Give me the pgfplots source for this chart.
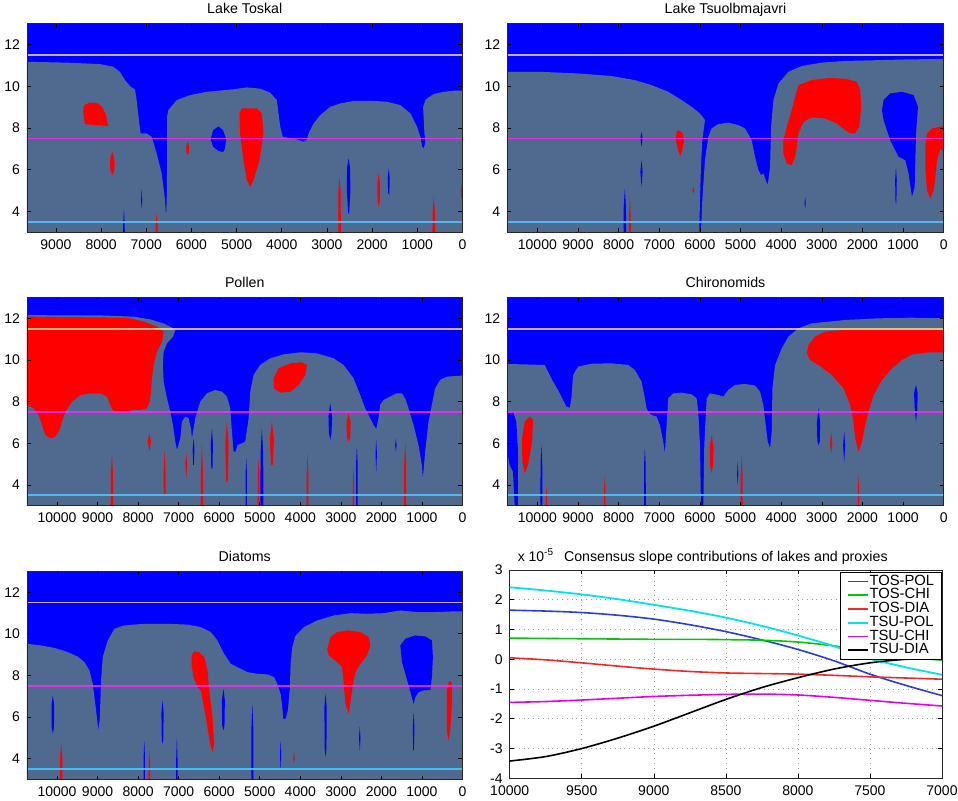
\documentclass[border=0pt]{standalone}
\usepackage{fontspec}
\setmainfont{Liberation Sans}
\usepackage{pgfplots}
\pgfplotsset{compat=1.18}
\definecolor{sgray}{RGB}{79,106,142}
\definecolor{sblue}{RGB}{0,0,255}
\definecolor{sred}{RGB}{255,0,0}
\definecolor{lyel}{RGB}{240,220,160}
\definecolor{lmag}{RGB}{255,40,255}
\definecolor{lcya}{RGB}{70,200,255}
\definecolor{cpol}{RGB}{40,60,230}
\definecolor{cchi}{RGB}{0,200,0}
\definecolor{cdia}{RGB}{240,40,40}
\definecolor{tpol}{RGB}{0,230,230}
\definecolor{tchi}{RGB}{230,0,230}
\pgfplotsset{
  every axis title shift=0pt,
  common/.style={
    scale only axis, height=104.15pt,
    enlargelimits=false, x dir=reverse,
    scaled ticks=false,
    tick align=inside, major tick length=2pt,
    tick style={black, line width=0.3pt},
    axis line style={black!85, line width=0.4pt},
    tick label style={font=\fontsize{7}{8}\selectfont},
    title style={font=\fontsize{7.1}{8}\selectfont, at={(0.5,1)}, anchor=base, yshift=5pt},
    /pgf/number format/assume math mode=true,
    /pgf/number format/1000 sep={},
  },
  mapax/.style={common, ymin=3, ymax=13, ytick={4,6,8,10,12}, xmin=0,
    axis background/.style={fill=sblue}, axis on top},
  G/.style={fill=sgray, draw=none},
  R/.style={fill=sred, draw=none},
  B/.style={fill=sblue, draw=none},
  L1/.style={draw=lyel, draw opacity=0.8, line width=0.9pt},
  L2/.style={draw=lmag, draw opacity=0.85, line width=0.9pt},
  L3/.style={draw=lcya, draw opacity=0.9, line width=0.9pt},
}
\begin{document}
\begin{tikzpicture}
\useasboundingbox (0,0) rectangle (479pt,400.5pt);

% ---------------- Panel 1: Lake Toskal
\begin{axis}[mapax, at={(13.5pt,284.4pt)}, anchor=south west, width=217.75pt,
  xmax=9640, xtick={0,1000,...,9000}, title={Lake Toskal}]
\addplot[G] coordinates {(9640,3)(9640,11.18)(8765,11.14)(8026,11.07)(7730,10.94)(7582,10.70)(7471,10.30)(7346,9.98)(7250,9.86)(7213,9.34)(7154,8.22)(7124,7.74)(6991,7.74)(6880,7.58)(6769,6.78)(6658,5.82)(6584,4.54)(6562,3.74)(6547,4.5)(6540,6.0)(6540,8.54)(6510,8.86)(6326,9.34)(6030,9.58)(5661,9.74)(5070,9.86)(4774,9.95)(4478,9.89)(4257,9.70)(4109,9.34)(4035,8.06)(3976,7.58)(3700,7.48)(3518,7.34)(3444,7.45)(3407,7.74)(3296,8.22)(3148,8.62)(2926,9.02)(2705,9.18)(2409,9.30)(2040,9.31)(1670,9.26)(1375,9.10)(1153,8.70)(1005,8.06)(931,7.58)(894,7.10)(857,7.02)(820,7.34)(842,7.74)(872,9.02)(820,9.34)(783,9.42)(636,9.63)(414,9.74)(192,9.79)(0,9.79)(0,3)};
\addplot[R] coordinates {(8380,9.10)(8247,9.22)(8062,9.18)(7967,8.99)(7893,8.62)(7841,8.10)(8099,8.14)(8358,8.19)(8395,8.70)};
\addplot[R] coordinates {(7752,6.86)(7715,6.6)(7700,6.3)(7710,5.95)(7752,5.74)(7790,5.95)(7804,6.3)(7790,6.6)};
\addplot[R] coordinates {(6082,7.34)(6050,7.1)(6060,6.8)(6082,6.70)(6110,6.85)(6115,7.15)};
\addplot[R] coordinates {(4885,8.94)(4552,8.94)(4441,8.70)(4404,7.74)(4493,6.46)(4626,5.50)(4700,5.18)(4774,5.50)(4848,6.46)(4922,7.74)(4937,8.70)};
\addplot[R] coordinates {(2750,3)(2745,5.0)(2725,5.66)(2700,5.0)(2690,3)};
\addplot[R] coordinates {(1855,5.82)(1825,5.3)(1830,4.5)(1855,4.22)(1880,4.5)(1885,5.3)};
\addplot[R] coordinates {(636,4.70)(610,4.0)(605,3)(665,3)(660,4.0)};
\addplot[R] coordinates {(0,5.34)(20,5.34)(40,5.0)(30,4.6)(0,4.6)};
\addplot[R] coordinates {(6769,3.9)(6750,3.4)(6745,3)(6795,3)(6790,3.4)};
\addplot[B] coordinates {(5402,8.07)(5300,7.9)(5232,7.46)(5260,7.0)(5300,6.85)(5402,6.9)(5520,7.1)(5572,7.46)(5520,7.9)};
\addplot[B] coordinates {(2520,6.54)(2490,6.1)(2480,5.0)(2510,3.90)(2530,3.90)(2560,5.0)(2555,6.1)};
\addplot[B] coordinates {(1633,6.06)(1610,5.6)(1620,4.78)(1645,4.9)(1655,5.6)};
\addplot[B] coordinates {(7494,4.14)(7480,3.5)(7475,3)(7515,3)(7508,3.5)};
\addplot[B] coordinates {(7102,5.10)(7090,4.5)(7100,4.14)(7115,4.5)};
\addplot[L1] coordinates {(9640,11.5)(0,11.5)};
\addplot[L2] coordinates {(9640,7.5)(0,7.5)};
\addplot[L3] coordinates {(9640,3.5)(0,3.5)};
\end{axis}

% ---------------- Panel 2: Lake Tsuolbmajavri
\begin{axis}[mapax, at={(253.65pt,284.4pt)}, anchor=south west, width=218.2pt,
  xmax=10740, xtick={0,1000,...,10000}, title={Lake Tsuolbmajavri}]
\addplot[G] coordinates {(10740,3)(10740,10.70)(9819,10.69)(8998,10.62)(8176,10.50)(7601,10.30)(7190,10.06)(6779,9.74)(6450,9.34)(6204,9.02)(5998,8.70)(5875,8.38)(5941,7.42)(5974,6.14)(5998,4.54)(6015,3)(5974,3)(5941,4.54)(5875,6.46)(5793,7.58)(5711,7.98)(5546,8.19)(5300,8.26)(5053,8.14)(4889,7.98)(4725,7.42)(4643,6.62)(4560,5.98)(4495,5.74)(4437,5.82)(4380,5.50)(4330,5.26)(4273,6.14)(4248,8.06)(4191,9.34)(4067,10.14)(3821,10.70)(3492,10.98)(2999,11.14)(2424,11.22)(1602,11.26)(781,11.30)(0,11.31)(0,3)};
\addplot[B] coordinates {(1520,8.86)(1479,8.38)(1315,7.42)(1109,6.62)(945,6.46)(863,5.82)(781,4.70)(715,5.18)(698,6.46)(682,7.74)(633,9.02)(740,9.58)(1027,9.74)(1315,9.66)(1479,9.34)};
\addplot[B] coordinates {(1175,6.14)(1155,5.5)(1165,4.38)(1185,4.38)(1195,5.5)};
\addplot[B] coordinates {(7436,7.82)(7410,7.5)(7436,7.10)(7465,7.5)};
\addplot[B] coordinates {(7436,6.46)(7410,5.9)(7436,5.18)(7465,5.9)};
\addplot[B] coordinates {(7847,5.10)(7820,4.2)(7815,3)(7880,3)(7875,4.2)};
\addplot[R] coordinates {(7724,4.70)(7705,3.8)(7700,3)(7750,3)(7745,3.8)};
\addplot[B] coordinates {(3410,4.70)(3395,4.4)(3410,4.14)(3425,4.4)};
\addplot[R] coordinates {(3574,10.06)(3246,10.30)(2835,10.40)(2424,10.37)(2136,10.22)(2054,9.82)(2030,9.02)(2079,8.06)(2178,7.74)(2301,7.74)(2424,7.90)(2629,8.22)(2917,8.46)(3246,8.51)(3451,8.30)(3574,7.74)(3615,7.10)(3657,6.62)(3739,6.22)(3862,6.30)(3944,6.78)(3944,7.42)(3862,8.06)(3739,8.86)(3657,9.50)};
\addplot[R] coordinates {(411,7.74)(288,7.98)(0,8.10)(0,6.9)(82,7.02)(164,6.46)(205,5.66)(247,5.02)(329,4.62)(411,5.02)(452,6.14)(452,7.10)};
\addplot[R] coordinates {(6560,7.90)(6440,7.80)(6390,7.4)(6440,6.9)(6480,6.66)(6530,6.9)(6600,7.5)};
\addplot[R] coordinates {(6163,5.18)(6140,5.0)(6163,4.86)(6185,5.0)};
\addplot[L1] coordinates {(10740,11.5)(0,11.5)};
\addplot[L2] coordinates {(10740,7.5)(0,7.5)};
\addplot[L3] coordinates {(10740,3.5)(0,3.5)};
\end{axis}

% ---------------- Panel 3: Pollen
\begin{axis}[mapax, at={(13.5pt,147.6pt)}, anchor=south west, width=217.75pt,
  xmax=10740, xtick={0,1000,...,10000}, title={Pollen}]
\addplot[G] coordinates {(10740,3)(10740,12.15)(8932,12.14)(8110,12.08)(7700,11.95)(7370,11.75)(7160,11.55)(7083,11.42)(7141,11.12)(7288,10.80)(7370,10.40)(7390,9.76)(7370,8.96)(7288,8.16)(7206,7.52)(7141,6.88)(7083,6.08)(7042,5.68)(6960,6.24)(6919,7.04)(6837,7.28)(6754,7.20)(6697,6.72)(6672,6.24)(6590,7.20)(6467,8.0)(6302,8.40)(6097,8.56)(5933,8.48)(5809,8.24)(5727,7.68)(5686,6.56)(5645,5.60)(5596,5.60)(5547,5.92)(5440,6.0)(5357,6.08)(5275,7.20)(5234,8.48)(5152,9.28)(4988,9.76)(4741,10.08)(4413,10.27)(4002,10.37)(3591,10.32)(3180,10.08)(2933,9.76)(2687,9.12)(2523,8.32)(2399,7.68)(2276,7.20)(2194,6.88)(2128,6.69)(2071,7.20)(2030,7.84)(1947,8.08)(1783,8.24)(1619,8.40)(1496,8.40)(1413,8.16)(1331,7.68)(1208,6.88)(1085,5.92)(1002,4.96)(978,4.32)(920,5.60)(838,7.04)(756,7.84)(674,8.64)(551,9.04)(386,9.20)(0,9.25)(0,3)};
\addplot[R] coordinates {(10740,12.08)(8275,12.03)(7864,11.84)(7535,11.60)(7370,11.36)(7412,10.88)(7535,10.40)(7617,9.76)(7658,9.12)(7683,8.48)(7716,8.0)(7781,7.68)(7946,7.60)(8110,7.60)(8357,7.52)(8603,7.52)(8685,7.84)(8768,8.24)(8932,8.40)(9178,8.40)(9425,8.32)(9630,8.0)(9795,7.52)(9877,7.04)(9959,6.56)(10041,6.32)(10164,6.24)(10288,6.40)(10370,6.88)(10452,7.36)(10575,7.68)(10740,7.84)};
\addplot[R] coordinates {(4659,9.12)(4536,9.60)(4248,9.84)(3961,9.89)(3837,9.76)(3878,9.28)(4043,8.80)(4248,8.48)(4495,8.43)(4643,8.64)};
\addplot[R] coordinates {(7724,6.48)(7680,6.1)(7724,5.60)(7765,6.1)};
\addplot[R] coordinates {(8645,5.52)(8620,4.5)(8615,3)(8675,3)(8670,4.5)};
\addplot[R] coordinates {(7346,5.68)(7320,4.5)(7325,3.5)(7365,3.5)(7372,4.5)};
\addplot[R] coordinates {(6812,5.52)(6790,5.0)(6812,4.32)(6835,5.0)};
\addplot[R] coordinates {(6426,6.0)(6400,4.5)(6395,3)(6455,3)(6452,4.5)};
\addplot[R] coordinates {(5809,7.04)(5770,6.0)(5790,4.16)(5830,4.16)(5850,6.0)};
\addplot[R] coordinates {(5029,5.28)(5010,4.5)(5005,3)(5050,3)(5048,4.5)};
\addplot[R] coordinates {(4700,7.04)(4650,6.2)(4680,4.96)(4720,4.96)(4750,6.2)};
\addplot[R] coordinates {(3821,5.52)(3800,4.5)(3800,3)(3845,3)(3842,4.5)};
\addplot[R] coordinates {(2810,7.44)(2760,7.0)(2770,6.3)(2810,6.08)(2850,6.3)(2860,7.0)};
\addplot[R] coordinates {(2687,4.80)(2670,4.0)(2670,3)(2710,3)(2705,4.0)};
\addplot[R] coordinates {(1413,6.08)(1390,5.0)(1390,3)(1440,3)(1437,5.0)};
\addplot[B] coordinates {(3262,7.92)(3215,7.3)(3230,6.5)(3262,6.16)(3295,6.5)(3305,7.3)};
\addplot[B] coordinates {(4947,6.72)(4915,5.5)(4910,3)(4985,3)(4980,5.5)};
\addplot[B] coordinates {(5333,5.28)(5315,4.5)(5315,3)(5350,3)(5350,4.5)};
\addplot[B] coordinates {(6179,6.72)(6155,6.0)(6165,4.80)(6195,4.80)(6205,6.0)};
\addplot[B] coordinates {(6631,6.24)(6610,5.7)(6625,4.96)(6640,4.96)(6655,5.7)};
\addplot[B] coordinates {(2605,5.84)(2585,5.0)(2585,3)(2625,3)(2625,5.0)};
\addplot[B] coordinates {(2128,6.16)(2110,5.5)(2128,4.64)(2145,5.5)};
\addplot[B] coordinates {(1643,6.24)(1625,5.9)(1643,5.60)(1660,5.9)};
\addplot[L1] coordinates {(10740,11.5)(0,11.5)};
\addplot[L2] coordinates {(10740,7.5)(0,7.5)};
\addplot[L3] coordinates {(10740,3.5)(0,3.5)};
\end{axis}

% ---------------- Panel 4: Chironomids
\begin{axis}[mapax, at={(253.65pt,147.6pt)}, anchor=south west, width=218.2pt,
  xmax=10740, xtick={0,1000,...,10000}, title={Chironomids}]
\addplot[G] coordinates {(10740,3)(10740,9.81)(9819,9.76)(9737,9.44)(9614,8.96)(9491,8.56)(9367,8.08)(9285,7.76)(9203,7.71)(9162,8.16)(9121,9.28)(8998,9.68)(8669,9.82)(8176,9.84)(7765,9.76)(7601,9.52)(7436,8.96)(7354,8.16)(7313,7.68)(7272,7.52)(7190,7.36)(7067,7.28)(6984,6.88)(6902,6.08)(6861,5.52)(6820,6.88)(6779,8.16)(6656,8.40)(6450,8.43)(6204,8.35)(6081,8.16)(6040,7.52)(5998,5.92)(5974,3)(5916,3)(5892,5.92)(5834,8.16)(5752,8.40)(5546,8.32)(5423,8.24)(5300,8.56)(5136,8.80)(4889,8.85)(4643,8.77)(4519,8.48)(4437,7.84)(4380,6.88)(4330,6.08)(4273,5.76)(4232,6.56)(4215,8.64)(4150,9.76)(3985,10.56)(3821,11.12)(3574,11.52)(3246,11.76)(2424,11.92)(1602,12.0)(781,12.03)(0,12.0)(0,3)};
\addplot[B] coordinates {(10740,7.52)(10600,7.52)(10518,7.04)(10477,5.60)(10477,3)(10559,3)(10600,4.64)(10682,4.96)(10740,5.60)};
\addplot[R] coordinates {(3369,10.32)(3328,10.72)(3164,11.12)(2917,11.36)(2424,11.44)(0,11.44)(0,10.37)(370,10.37)(781,10.27)(1027,10.0)(1274,9.60)(1520,9.04)(1726,8.32)(1849,7.52)(1931,6.88)(2013,6.08)(2095,5.60)(2178,6.24)(2219,7.04)(2301,7.84)(2465,8.64)(2753,9.28)(3081,9.76)(3287,10.0)};
\addplot[R] coordinates {(10312,7.04)(10189,7.28)(10107,7.12)(10132,6.08)(10230,4.96)(10312,4.56)(10370,5.12)(10378,6.24)};
\addplot[R] coordinates {(5711,6.40)(5660,5.8)(5680,4.9)(5711,4.56)(5745,4.9)(5760,5.8)};
\addplot[R] coordinates {(2769,6.56)(2740,6.0)(2769,5.52)(2800,6.0)};
\addplot[R] coordinates {(4971,5.44)(4950,4.5)(4945,3)(5000,3)(4995,4.5)};
\addplot[R] coordinates {(8340,4.48)(8325,3.8)(8325,3)(8360,3)(8357,3.8)};
\addplot[R] coordinates {(9778,4.0)(9765,3.5)(9765,3)(9795,3)};
\addplot[R] coordinates {(2095,4.48)(2080,3.8)(2080,3)(2115,3)(2112,3.8)};
\addplot[B] coordinates {(3081,7.68)(3040,7.0)(3050,6.1)(3081,5.92)(3110,6.1)(3120,7.0)};
\addplot[B] coordinates {(2449,6.56)(2425,5.9)(2449,5.12)(2475,5.9)};
\addplot[B] coordinates {(682,8.80)(640,8.4)(650,7.6)(682,7.04)(710,7.6)(730,8.4)};
\addplot[B] coordinates {(9901,5.92)(9880,5.0)(9875,3)(9925,3)(9922,5.0)};
\addplot[B] coordinates {(7354,5.76)(7335,5.0)(7330,3)(7375,3)(7373,5.0)};
\addplot[B] coordinates {(5070,5.12)(5055,4.5)(5070,4.0)(5085,4.5)};
\addplot[L1] coordinates {(10740,11.5)(0,11.5)};
\addplot[L2] coordinates {(10740,7.5)(0,7.5)};
\addplot[L3] coordinates {(10740,3.5)(0,3.5)};
\end{axis}

% ---------------- Panel 5: Diatoms
\begin{axis}[mapax, at={(13.5pt,10.7pt)}, anchor=south west, width=217.75pt,
  xmax=10740, xtick={0,1000,...,10000}, title={Diatoms}]
\addplot[G] coordinates {(10740,3)(10740,9.52)(10389,9.44)(10061,9.32)(9733,9.12)(9487,8.90)(9323,8.64)(9200,8.24)(9118,7.60)(9036,6.32)(8979,5.36)(8946,5.92)(8913,7.76)(8872,8.88)(8749,9.68)(8585,10.24)(8339,10.40)(7847,10.48)(7273,10.48)(6781,10.44)(6453,10.32)(6207,10.08)(6043,9.68)(5879,9.04)(5715,8.56)(5551,8.40)(5305,8.16)(5059,8.08)(4813,8.05)(4649,7.92)(4567,7.60)(4485,7.12)(4444,6.48)(4420,5.92)(4362,5.92)(4305,6.32)(4256,7.44)(4239,8.56)(4198,9.36)(4116,9.92)(3911,10.32)(3583,10.64)(3173,10.88)(2763,10.99)(2353,10.96)(1943,10.99)(1533,11.12)(1123,11.04)(713,11.04)(303,11.07)(0,11.07)(0,3)};
\addplot[R] coordinates {(3296,9.52)(3255,9.84)(3091,10.08)(2804,10.16)(2517,10.08)(2312,9.84)(2271,9.44)(2353,8.96)(2517,8.56)(2640,8.16)(2698,7.60)(2747,6.96)(2804,6.16)(2886,6.64)(2927,7.60)(2968,8.40)(3091,8.64)(3296,8.96)(3337,9.28)};
\addplot[R] coordinates {(6683,8.96)(6617,9.16)(6494,9.12)(6371,8.88)(6289,8.24)(6248,7.28)(6166,6.0)(6125,4.72)(6166,4.32)(6224,4.72)(6330,6.0)(6453,7.28)(6535,7.44)(6634,7.92)(6683,8.56)};
\addplot[R] coordinates {(385,7.28)(328,7.76)(262,7.60)(262,6.64)(303,5.36)(344,4.88)(385,5.36)};
\addplot[R] coordinates {(9897,4.80)(9870,4.0)(9865,3)(9930,3)(9925,4.0)};
\addplot[R] coordinates {(7724,4.40)(7705,3.8)(7705,3)(7745,3)(7742,3.8)};
\addplot[R] coordinates {(4157,4.40)(4140,4.0)(4157,3.76)(4175,4.0)};
\addplot[B] coordinates {(1533,9.44)(1410,9.76)(1164,9.92)(918,9.87)(754,9.68)(730,8.88)(754,7.92)(795,7.31)(959,7.28)(1082,7.20)(1164,6.96)(1205,6.64)(1271,7.12)(1386,7.92)(1492,8.64)};
\addplot[B] coordinates {(10102,7.04)(10070,6.6)(10075,5.5)(10102,5.20)(10130,5.5)(10135,6.6)};
\addplot[B] coordinates {(5896,7.36)(5860,6.8)(5870,5.6)(5896,5.36)(5925,5.6)(5935,6.8)};
\addplot[B] coordinates {(7396,6.80)(7370,6.2)(7380,4.9)(7396,4.72)(7415,4.9)(7425,6.2)};
\addplot[B] coordinates {(5182,6.64)(5160,5.5)(5158,3)(5205,3)(5205,5.5)};
\addplot[B] coordinates {(3378,7.12)(3350,6.5)(3355,4.5)(3378,4.08)(3400,4.5)(3405,6.5)};
\addplot[B] coordinates {(2534,5.52)(2515,5.0)(2534,4.40)(2552,5.0)};
\addplot[B] coordinates {(1205,6.24)(1185,5.5)(1200,4.40)(1215,4.40)(1225,5.5)};
\addplot[B] coordinates {(7847,4.88)(7830,4.0)(7830,3)(7865,3)(7865,4.0)};
\addplot[B] coordinates {(7044,5.04)(7028,4.0)(7028,3)(7062,3)(7060,4.0)};
\addplot[B] coordinates {(4485,4.88)(4470,4.2)(4485,3.44)(4500,4.2)};
\addplot[L1] coordinates {(10740,11.5)(0,11.5)};
\addplot[L2] coordinates {(10740,7.5)(0,7.5)};
\addplot[L3] coordinates {(10740,3.5)(0,3.5)};
\end{axis}

% ---------------- Panel 6: consensus slope contributions
\begin{axis}[common, at={(254.85pt,11.35pt)}, anchor=south west, width=216.15pt,
  xmin=7000, xmax=10000, ymin=-4, ymax=3, clip=false,
  xtick={7000,7500,...,10000}, ytick={-4,-3,...,3},
  grid=major, grid style={dotted, black!40, line width=0.3pt},
  title={Consensus slope contributions of lakes and proxies},
  title style={yshift=-0.8pt},
  legend cell align=left,
  legend style={at={(1,1)}, anchor=north east, xshift=-0.3pt, yshift=-1pt,
    font=\fontsize{7.4}{7.4}\selectfont, inner xsep=3pt, inner ysep=0.8pt, row sep=-0.6pt,
    draw=black, line width=0.4pt, nodes={inner sep=0.4pt}},
  legend image code/.code={\draw[#1] (0pt,0pt) -- (10pt,0pt);}]
\addplot[cpol, line width=0.8pt, smooth] coordinates {(10000,1.65)(9750,1.62)(9500,1.57)(9250,1.48)(9000,1.35)(8750,1.16)(8500,0.93)(8250,0.65)(8000,0.33)(7750,-0.05)(7500,-0.5)(7250,-0.88)(7000,-1.22)};
\addlegendentry{TOS-POL}
\addplot[cchi, line width=0.8pt, smooth] coordinates {(10000,0.71)(9750,0.70)(9500,0.69)(9250,0.68)(9000,0.67)(8750,0.67)(8500,0.66)(8250,0.64)(8000,0.58)(7750,0.45)(7500,0.25)(7250,0.08)(7000,-0.03)};
\addlegendentry{TOS-CHI}
\addplot[cdia, line width=0.8pt, smooth] coordinates {(10000,0.05)(9750,-0.02)(9500,-0.12)(9250,-0.23)(9000,-0.33)(8750,-0.41)(8500,-0.46)(8250,-0.48)(8000,-0.50)(7750,-0.54)(7500,-0.59)(7250,-0.63)(7000,-0.67)};
\addlegendentry{TOS-DIA}
\addplot[tpol, line width=0.9pt, smooth] coordinates {(10000,2.42)(9750,2.31)(9500,2.18)(9250,2.02)(9000,1.83)(8750,1.63)(8500,1.40)(8250,1.12)(8000,0.80)(7750,0.44)(7500,0.02)(7250,-0.27)(7000,-0.52)};
\addlegendentry{TSU-POL}
\addplot[tchi, line width=0.8pt, smooth] coordinates {(10000,-1.45)(9750,-1.42)(9500,-1.37)(9250,-1.31)(9000,-1.25)(8750,-1.21)(8500,-1.18)(8250,-1.17)(8000,-1.20)(7750,-1.28)(7500,-1.38)(7250,-1.48)(7000,-1.57)};
\addlegendentry{TSU-CHI}
\addplot[black, line width=0.8pt, smooth] coordinates {(10000,-3.42)(9750,-3.27)(9500,-3.0)(9250,-2.65)(9000,-2.25)(8750,-1.80)(8500,-1.35)(8250,-0.95)(8000,-0.62)(7750,-0.33)(7500,-0.12)(7250,0.0)(7000,0.05)};
\addlegendentry{TSU-DIA}
\node[anchor=base west, font=\fontsize{7}{8}\selectfont, xshift=0.5pt, yshift=4.3pt] at (rel axis cs:0,1) {x 10\textsuperscript{-5}};
\end{axis}
\end{tikzpicture}
\end{document}
